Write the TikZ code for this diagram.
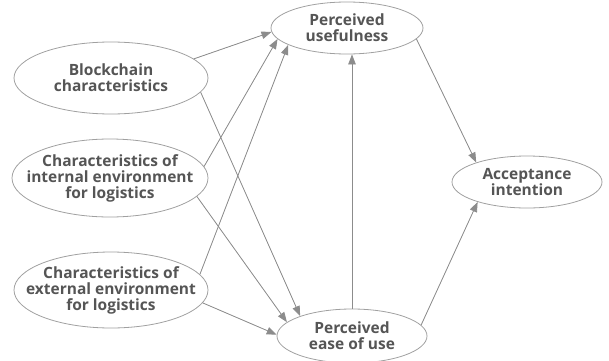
\documentclass[tikz,border=0pt]{standalone}
\usepackage{fontspec}
\setmainfont{Open Sans}
\usetikzlibrary{arrows.meta,shapes.geometric}
\definecolor{edgegray}{HTML}{8C8C8C}
\definecolor{rimgray}{HTML}{A0A0A0}
\definecolor{textgray}{HTML}{555555}
\begin{document}
\begin{tikzpicture}[x=1pt,y=1pt,
  % negative inner sep lets the minimum sizes alone fix each ellipse
  construct/.style={ellipse, draw=rimgray, line width=0.8pt,
    inner xsep=-40pt, inner ysep=-20pt,
    align=center, text=textgray,
    font=\fontsize{15.5}{16}\selectfont\bfseries},
  arr/.style={draw=edgegray, line width=0.8pt,
    -{Triangle[length=10pt,width=7.5pt]}, fill=edgegray}
]
\useasboundingbox (0,0) rectangle (609,360);

% constructs
\node[construct, minimum width=194, minimum height=72] (bc) at (111,282)
  {Blockchain\\characteristics};
\node[construct, minimum width=196, minimum height=78] (ie) at (110,182)
  {Characteristics of\\internal environment\\for logistics};
\node[construct, minimum width=194, minimum height=76] (ee) at (111,70)
  {Characteristics of\\external environment\\for logistics};
\node[construct, minimum width=152, minimum height=52] (pu) at (347,332)
  {Perceived\\usefulness};
\node[construct, minimum width=150, minimum height=54] (peou) at (352,24)
  {Perceived\\ease of use};
\node[construct, minimum width=150, minimum height=52] (acc) at (527,178)
  {Acceptance\\intention};

% paths into perceived usefulness
\draw[arr] (bc.13) -- (pu.183);
\draw[arr] (ie.7) -- (pu.189);
\draw[arr] (ee.10) -- (pu.196);

% paths into perceived ease of use
\draw[arr] (bc.-9) -- (peou.159);
\draw[arr] (ie.-12) -- (peou.168);
\draw[arr] (ee.-8) -- (peou.179);

% ease of use -> usefulness
\draw[arr] (peou.north) -- (pu.south -| peou.north);

% paths into acceptance intention
\draw[arr] (pu.-9) -- (acc.159);
\draw[arr] (peou.9) -- (acc.202);
\end{tikzpicture}
\end{document}
